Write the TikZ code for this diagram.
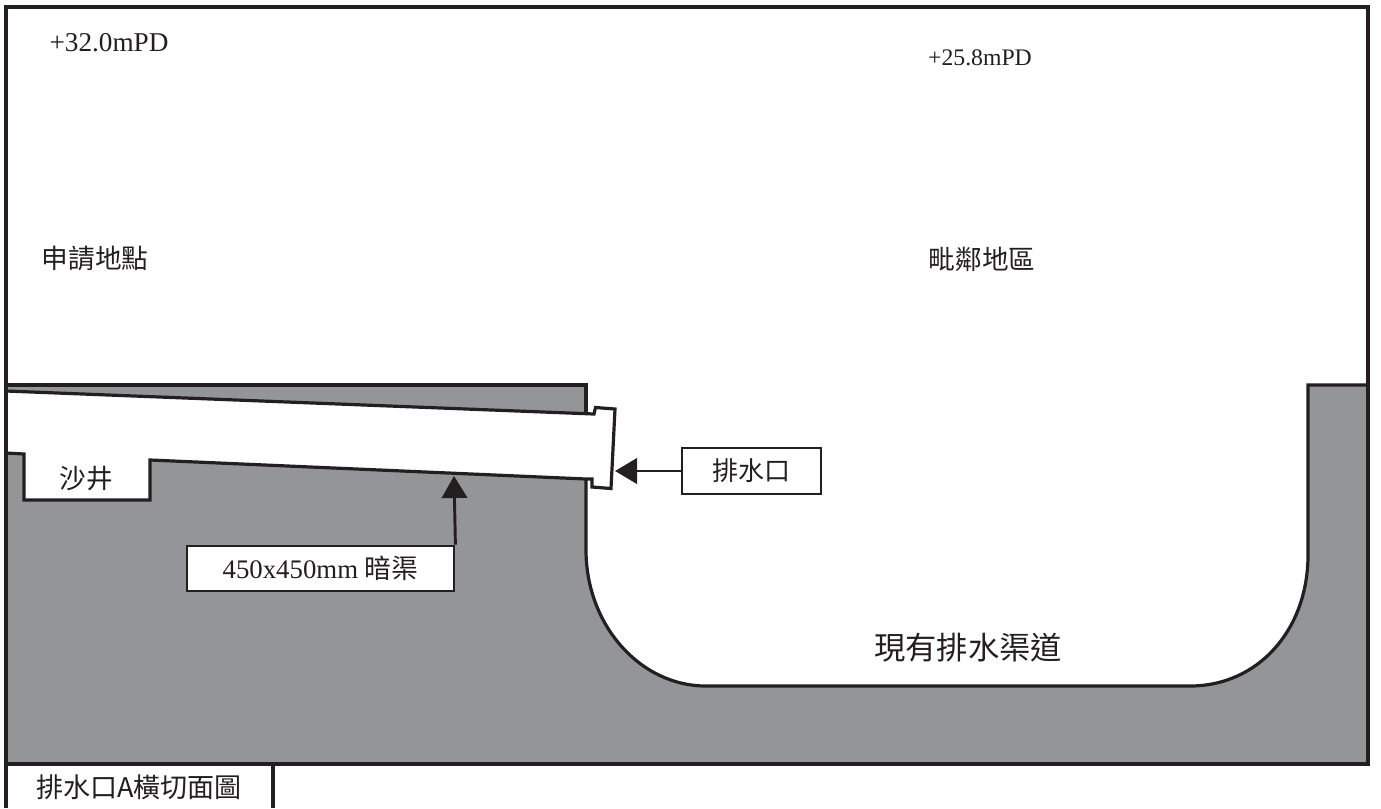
\documentclass[tikz,border=0pt]{standalone}
\usepackage{fontspec}
\setmainfont{Liberation Serif}
\newfontfamily\cjk{Noto Sans CJK TC}[Scale=1]
\usetikzlibrary{arrows.meta}
\definecolor{groundgray}{RGB}{147,149,152}
\definecolor{inkblack}{RGB}{35,31,32}
\tikzset{
  outline/.style={draw=inkblack,line width=2.4pt,line join=miter},
  thinline/.style={draw=inkblack,line width=2.4pt},
  labelbox/.style={draw=inkblack,line width=2.1pt,fill=white,inner sep=0pt,text=inkblack},
  lbl/.style={text=inkblack,inner sep=0pt},
  pointer/.style={draw=inkblack,line width=2.2pt,-{Triangle[length=16.5pt,width=19pt,fill=inkblack]}},
}
\begin{document}
\begin{tikzpicture}[x=0.75pt,y=0.75pt,yscale=-1,xscale=1]
\useasboundingbox (0,0) rectangle (1381,808);

%Ground fill
\fill [groundgray] (6,385) -- (586,385) -- (586,550) .. controls (586,625) and (640,686) .. (706,686) -- (1190,686) .. controls (1258,686) and (1308,630) .. (1308,555) -- (1308,385) -- (1368,385) -- (1368,764) -- (6,764) -- cycle ;
%Culvert and sand trap
\draw [thinline,fill=white] (6,391) -- (594,414) -- (595.5,407.5) -- (615,409) -- (611,488.5) -- (592,487) -- (592,479) -- (586,479) -- (150,460) -- (150,500) -- (24,500) -- (24,454) -- (6,453) ;
\fill [white] (6,393) rectangle (8,451) ;
%Ground surface
\draw [thinline] (6,385) -- (586,385) -- (586,414) ;
\draw [outline] (586,479) -- (586,550) .. controls (586,625) and (640,686) .. (706,686) -- (1190,686) .. controls (1258,686) and (1308,630) .. (1308,555) -- (1308,385) -- (1368,385) ;
%Frame
\draw [outline] (6,808) -- (6,7) -- (1368,7) -- (1368,764) -- (6,764) ;
\draw [outline] (273,764) -- (273,808) ;

%Levels and labels
\node [lbl,font=\fontsize{20.4}{24}\selectfont] (levelA) at (109,43) {+32.0mPD};
\node [lbl,font=\fontsize{17.8}{22}\selectfont] (levelB) at (980,58) {+25.8mPD};
\node [lbl,font=\cjk\fontsize{20}{24}\selectfont] (siteA) at (95,259) {申請地點};
\node [lbl,font=\cjk\fontsize{20}{24}\selectfont] (siteB) at (982,259) {毗鄰地區};
\node [lbl,font=\cjk\fontsize{20}{24}\selectfont] (trap) at (86,479) {沙井};
\node [lbl,font=\cjk\fontsize{23.5}{28}\selectfont] (channel) at (968,648) {現有排水渠道};
\node [lbl,font=\cjk\fontsize{20.3}{24}\selectfont] (title) at (139,787) {排水口A橫切面圖};

%Boxes
\node [labelbox,minimum width=104.25pt,minimum height=34.5pt,font=\cjk\fontsize{19.5}{23}\selectfont] (outfall) at (751.5,471) {排水口};
\node [labelbox,minimum width=200.25pt,minimum height=33.75pt,font=\fontsize{20.1}{24}\selectfont] (culvert) at (320.5,568.5) {450x450mm {\cjk 暗渠}};

%Pointers
\coordinate (outfalltip) at (615,471);
\coordinate (culverttip) at (454,476);
\draw [pointer] (outfall.west) -- (outfalltip) ;
\draw [pointer] (culvert.north east) -- (culverttip) ;
\end{tikzpicture}
\end{document}
